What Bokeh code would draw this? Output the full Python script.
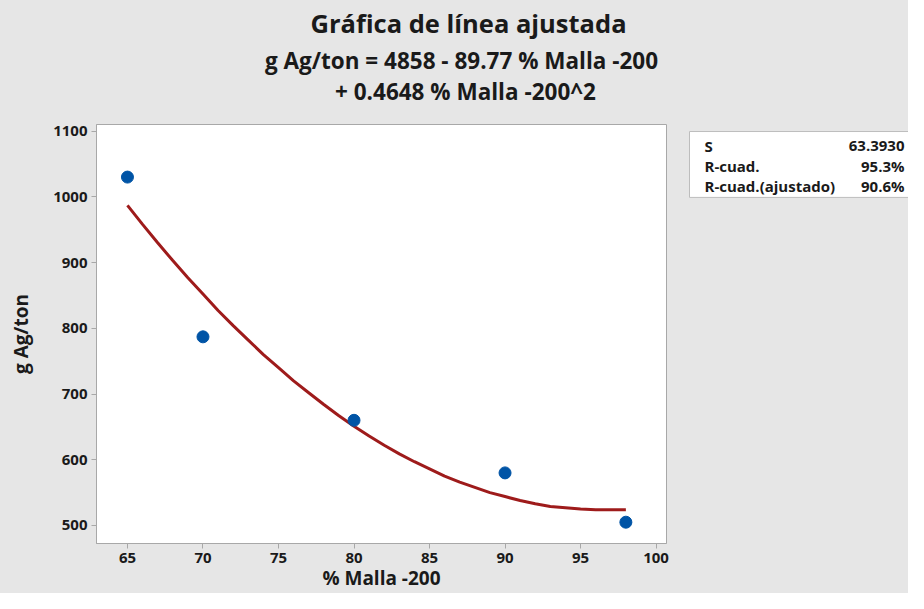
from bokeh.plotting import figure
from bokeh.models import Range1d, FixedTicker
from bokeh.layouts import column, row
from bokeh.core.properties import value
from bokeh.embed import file_html
from bokeh.resources import INLINE

# ---- data ----
malla = [65, 70, 80, 90, 98]
ag_ton = [1030, 787, 660, 580, 505]

fit_x = [65, 66, 67, 68, 69, 70, 71, 72, 73, 74, 75, 76, 77, 78, 79, 80, 81,
         82, 83, 84, 85, 86, 87, 88, 89, 90, 91, 92, 93, 94, 95, 96, 97, 98]
fit_y = [987, 958, 930, 903, 877, 852, 827, 804, 782, 760, 740, 720, 702, 684,
         667, 651, 636, 622, 609, 597, 586, 575, 566, 558, 550, 544, 538, 533,
         529, 527, 525, 524, 524, 524]

x_ticks = [65, 70, 75, 80, 85, 90, 95, 100]
y_ticks = [500, 600, 700, 800, 900, 1000, 1100]

title_lines = ["Gráfica de línea ajustada",
               "g Ag/ton = 4858 - 89.77 % Malla -200",
               "+ 0.4648 % Malla -200^2"]
stat_names = ["S", "R-cuad.", "R-cuad.(ajustado)"]
stat_values = ["63.3930", "95.3%", "90.6%"]

FONT = "Open Sans"
BG = "#E6E6E6"
FRAME = "#A8A8A8"
TXT = "#1A1A1A"

W, H = 908, 593
TOP_H = 116
MAIN_W = 676


def blank(width, height):
    f = figure(width=width, height=height, output_backend="svg",
               toolbar_location=None, x_axis_type=None, y_axis_type=None,
               x_range=Range1d(0, width), y_range=Range1d(height, 0),
               min_border=0)
    f.background_fill_color = BG
    f.border_fill_color = BG
    f.outline_line_color = None
    f.styles = {"background-color": BG}
    return f


# ---- title area ----
top = blank(W, TOP_H)
top.text(x=[468, 461, 465], y=[22, 60, 91], text=title_lines,
         text_align="center", text_baseline="middle",
         text_font=value(FONT), text_font_style="bold",
         text_font_size=["25.5px", "22.5px", "22.5px"], text_color=TXT)

# ---- main plot ----
p = figure(width=MAIN_W, height=H - TOP_H, output_backend="svg",
           toolbar_location=None,
           x_range=Range1d(62.95, 100.69), y_range=Range1d(472.6, 1110),
           min_border_left=96, min_border_top=8, min_border_right=10,
           min_border_bottom=30)
p.background_fill_color = "white"
p.border_fill_color = BG
p.styles = {"background-color": BG}
p.outline_line_color = FRAME
p.outline_line_width = 1
p.xgrid.visible = False
p.ygrid.visible = False

for ax in (p.xaxis[0], p.yaxis[0]):
    ax.axis_line_color = FRAME
    ax.major_tick_line_color = FRAME
    ax.minor_tick_line_color = None
    ax.major_tick_out = 5
    ax.major_tick_in = 0
    ax.major_label_text_font = FONT
    ax.major_label_text_font_size = "15px"
    ax.major_label_text_font_style = "bold"
    ax.major_label_text_color = TXT
    ax.axis_label_text_font = FONT
    ax.axis_label_text_font_size = "19px"
    ax.axis_label_text_font_style = "bold"
    ax.axis_label_text_color = TXT

p.xaxis.ticker = FixedTicker(ticks=x_ticks)
p.yaxis.ticker = FixedTicker(ticks=y_ticks)
p.xaxis.axis_label = "% Malla -200"
p.yaxis.axis_label = "g Ag/ton"
p.xaxis.major_label_standoff = 4
p.xaxis.axis_label_standoff = -1
p.yaxis.major_label_standoff = 4
p.yaxis.axis_label_standoff = 16

p.line(fit_x, fit_y, line_color="#9E1B1B", line_width=3)
p.scatter(malla, ag_ton, size=12, fill_color="#0054A6", line_color="#0054A6")

# ---- statistics box ----
side = blank(W - MAIN_W, H - TOP_H)
side.quad(left=[13], right=[240], top=[8], bottom=[83],
          fill_color="white", line_color="#BDBDBD", line_width=1)
row_y = [24.5, 47.5, 70.5]
side.text(x=[28, 28, 28], y=row_y, text=stat_names,
          text_align="left", text_baseline="middle",
          text_font=value(FONT), text_font_style="bold",
          text_font_size="15px", text_color=TXT)
side.text(x=[228, 228, 228], y=row_y, text=stat_values,
          text_align="right", text_baseline="middle",
          text_font=value(FONT), text_font_style="bold",
          text_font_size="15px", text_color=TXT)

inner = row(p, side, spacing=0)
inner.styles = {"background-color": BG}
layout = column(top, inner, spacing=0)
layout.styles = {"background-color": BG}

open("out.html", "w").write(file_html(layout, INLINE))
